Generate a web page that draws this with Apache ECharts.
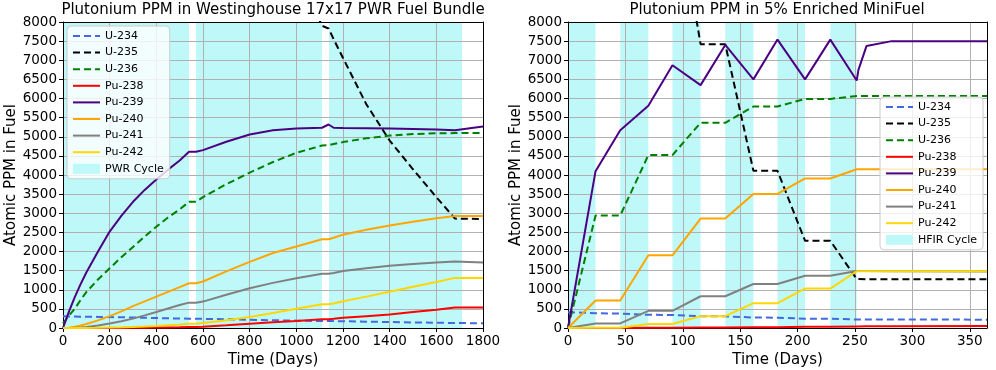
<!DOCTYPE html>
<html>
<head>
<meta charset="utf-8">
<script src="https://cdn.jsdelivr.net/npm/echarts@6.0.0/dist/echarts.min.js"></script>
<style>
  html, body { margin: 0; padding: 0; background: #fff; }
  #chart { width: 996px; height: 370px; }
</style>
</head>
<body>
<div id="chart"></div>
<script>
// ---- PWR bundle (left), time in days ----
const pwrDays   = [0, 25, 50, 75, 100, 150, 200, 250, 300, 350, 400, 450, 500, 540, 570, 600, 700, 800, 900, 1000, 1110, 1138, 1160, 1200, 1300, 1400, 1500, 1600, 1680, 1800]
const pwrU234   = [305, 302, 300, 297, 295, 290, 285, 280, 275, 268, 260, 254, 248, 243, 243, 240, 228, 215, 203, 192, 182, 182, 180, 176, 166, 156, 146, 137, 130, 125]
const pwrU235   = [35000, 34000, 33000, 32000, 31000, 29000, 27300, 25600, 24000, 22500, 21000, 19600, 18300, 17300, 17300, 16600, 14500, 12600, 10900, 9400, 7900, 7830, 7550, 7060, 5850, 4900, 4150, 3420, 2860, 2850]
const pwrU236   = [120, 320, 500, 730, 940, 1270, 1560, 1850, 2120, 2390, 2650, 2890, 3100, 3300, 3300, 3420, 3760, 4060, 4340, 4580, 4770, 4780, 4810, 4860, 4960, 5030, 5070, 5090, 5095, 5095]
const pwrPu238  = [0, 0, 0, 0, 0, 1, 2, 3, 5, 7, 10, 15, 20, 25, 25, 35, 70, 110, 148, 183, 227, 227, 240, 265, 310, 355, 420, 480, 534, 534]
const pwrPu239  = [0, 420, 800, 1140, 1450, 2000, 2520, 2930, 3300, 3610, 3880, 4140, 4380, 4610, 4610, 4650, 4870, 5060, 5170, 5215, 5235, 5320, 5235, 5230, 5225, 5215, 5205, 5190, 5170, 5270]
const pwrPu240  = [0, 8, 30, 65, 105, 200, 310, 435, 570, 695, 820, 945, 1070, 1170, 1170, 1215, 1480, 1730, 1960, 2130, 2320, 2320, 2360, 2440, 2570, 2680, 2780, 2870, 2930, 2930]
const pwrPu241  = [0, 1, 5, 14, 26, 65, 115, 175, 245, 330, 419, 510, 600, 663, 663, 690, 870, 1040, 1180, 1300, 1420, 1420, 1440, 1490, 1560, 1625, 1675, 1715, 1740, 1710]
const pwrPu242  = [0, 0, 0, 1, 2, 5, 10, 17, 25, 37, 50, 70, 90, 110, 110, 130, 205, 290, 395, 505, 620, 620, 640, 700, 820, 950, 1080, 1200, 1310, 1310]
const pwrCycles = [[0, 540], [570, 1110], [1140, 1710]]

// ---- HFIR MiniFuel (right) ----
const hfirDays   = [0, 24, 45.5, 70, 91, 115.5, 137, 161.5, 182.5, 206.5, 228.5, 251.5, 253, 260, 282, 365]
const hfirU234   = [415, 385, 378, 345, 340, 310, 305, 275, 270, 245, 242, 222, 222, 222, 222, 218]
const hfirU235   = [34000, 19600, 19600, 11740, 11740, 7420, 7420, 4110, 4110, 2280, 2280, 1280, 1275, 1275, 1275, 1275]
const hfirU236   = [0, 2940, 2940, 4520, 4520, 5365, 5365, 5790, 5790, 5990, 5990, 6065, 6065, 6065, 6065, 6065]
const hfirPu238  = [0, 2, 2, 6, 6, 12, 12, 20, 20, 30, 30, 42, 42, 43, 45, 50]
const hfirPu239  = [0, 4100, 5170, 5810, 6870, 6350, 7400, 6500, 7540, 6500, 7540, 6470, 6750, 7370, 7500, 7500]
const hfirPu240  = [0, 720, 720, 1900, 1900, 2860, 2860, 3505, 3505, 3910, 3910, 4150, 4150, 4150, 4150, 4150]
const hfirPu241  = [0, 120, 120, 450, 450, 830, 830, 1150, 1150, 1365, 1365, 1490, 1490, 1488, 1485, 1480]
const hfirPu242  = [0, 5, 5, 105, 105, 310, 310, 650, 650, 1030, 1030, 1484, 1484, 1484, 1484, 1484]
const hfirCycles = [[0, 24], [45.5, 70], [91, 115.5], [137, 161.5], [182.5, 206.5], [228.5, 251.5]]

const names  = ['U-234', 'U-235', 'U-236', 'Pu-238', 'Pu-239', 'Pu-240', 'Pu-241', 'Pu-242']
const colors = ['#4169e1', '#000000', '#008000', '#ff0000', '#4b0082', '#ffa500', '#808080', '#ffd700']
const dashed = [true, true, true, false, false, false, false, false]
const cyan = '#bff8f8'
const font = 'DejaVu Sans'

const pwrVals  = [pwrU234, pwrU235, pwrU236, pwrPu238, pwrPu239, pwrPu240, pwrPu241, pwrPu242]
const hfirVals = [hfirU234, hfirU235, hfirU236, hfirPu238, hfirPu239, hfirPu240, hfirPu241, hfirPu242]

function lineSeries(i, days, vals, idx) {
  return {
    name: names[i],
    type: 'line',
    xAxisIndex: idx * 2,
    yAxisIndex: idx * 2,
    symbol: 'none',
    z: 5,
    lineStyle: { color: colors[i], width: 2, type: dashed[i] ? [7, 4] : 'solid' },
    itemStyle: { color: colors[i] },
    data: days.map((d, k) => [d, vals[k]])
  }
}

function bandSeries(name, cycles, idx) {
  return {
    name: name,
    type: 'line',
    xAxisIndex: idx * 2,
    yAxisIndex: idx * 2,
    symbol: 'none',
    z: 1,
    itemStyle: { color: cyan },
    lineStyle: { color: cyan },
    data: [],
    markArea: {
      silent: true,
      itemStyle: { color: cyan, opacity: 1 },
      data: cycles.map(c => [{ xAxis: c[0] }, { xAxis: c[1] }])
    }
  }
}

// bottom/left axes with ticks and grid, top/right only as frame
function xAxes(g, max, interval) {
  return [
    {
      type: 'value', gridIndex: g, min: 0, max: max, interval: interval, z: 3,
      name: 'Time (Days)', nameLocation: 'middle', nameGap: 20,
      nameTextStyle: { fontFamily: font, fontSize: 15, color: '#000' },
      axisLine: { show: true, onZero: false, lineStyle: { color: '#000', width: 1 } },
      axisTick: { show: true, length: 4, lineStyle: { color: '#000' } },
      axisLabel: { fontFamily: font, fontSize: 13.5, color: '#000', margin: 6, showMaxLabel: max % interval === 0, formatter: v => String(v) },
      splitLine: { show: true, lineStyle: { color: '#b0b0b0', width: 1 } }
    },
    {
      type: 'value', gridIndex: g, position: 'top', z: 3,
      axisLine: { show: true, onZero: false, lineStyle: { color: '#000', width: 1 } },
      axisTick: { show: false }, axisLabel: { show: false }, splitLine: { show: false }
    }
  ]
}

function yAxes(g) {
  return [
    {
      type: 'value', gridIndex: g, min: 0, max: 8000, interval: 500, z: 3,
      name: 'Atomic PPM in Fuel', nameLocation: 'middle', nameGap: 44, nameRotate: 90,
      nameTextStyle: { fontFamily: font, fontSize: 15, color: '#000' },
      axisLine: { show: true, onZero: false, lineStyle: { color: '#000', width: 1 } },
      axisTick: { show: true, length: 4, lineStyle: { color: '#000' } },
      axisLabel: { fontFamily: font, fontSize: 13.5, color: '#000', margin: 6, formatter: v => String(v) },
      splitLine: { show: true, lineStyle: { color: '#b0b0b0', width: 1 } }
    },
    {
      type: 'value', gridIndex: g, position: 'right', z: 3,
      axisLine: { show: true, onZero: false, lineStyle: { color: '#000', width: 1 } },
      axisTick: { show: false }, axisLabel: { show: false }, splitLine: { show: false }
    }
  ]
}

function legendBox(left, top, bandName) {
  return {
    orient: 'vertical',
    left: left,
    top: top,
    z: 10,
    padding: [4, 6, 4, 5],
    itemWidth: 27,
    itemHeight: 10,
    itemGap: 4.6,
    backgroundColor: 'rgba(255,255,255,0.8)',
    borderColor: '#cccccc',
    borderWidth: 1,
    borderRadius: 4,
    selectedMode: false,
    // hide the point marker on line icons, keep only the line
    itemStyle: { opacity: 0 },
    textStyle: { fontFamily: font, fontSize: 11, color: '#000', lineHeight: 12 },
    data: names.concat([{ name: bandName, icon: 'rect', itemStyle: { opacity: 1, color: cyan } }])
  }
}

var myChart = echarts.init(document.getElementById('chart'))

let option = {
  animation: false,
  backgroundColor: '#fff',
  title: [
    { text: 'Plutonium PPM in Westinghouse 17x17 PWR Fuel Bundle', left: 273, top: 3, padding: 0, textAlign: 'center',
      textStyle: { fontFamily: font, fontSize: 15, fontWeight: 'normal', color: '#000' } },
    { text: 'Plutonium PPM in 5% Enriched MiniFuel', left: 777, top: 3, padding: 0, textAlign: 'center',
      textStyle: { fontFamily: font, fontSize: 15, fontWeight: 'normal', color: '#000' } }
  ],
  grid: [
    { left: 63, top: 22, width: 420, height: 306, containLabel: false, outerBoundsMode: 'none' },
    { left: 568, top: 22, width: 419, height: 306, containLabel: false, outerBoundsMode: 'none' }
  ],
  legend: [legendBox(67, 26, 'PWR Cycle'), legendBox(880, 97, 'HFIR Cycle')],
  xAxis: xAxes(0, 1800, 200).concat(xAxes(1, 365, 50)),
  yAxis: yAxes(0).concat(yAxes(1)),
  series: []
}

option.series.push(bandSeries('PWR Cycle', pwrCycles, 0))
option.series.push(bandSeries('HFIR Cycle', hfirCycles, 1))
names.forEach((n, i) => {
  option.series.push(lineSeries(i, pwrDays, pwrVals[i], 0))
})
names.forEach((n, i) => {
  option.series.push(lineSeries(i, hfirDays, hfirVals[i], 1))
})

myChart.setOption(option)
</script>
</body>
</html>
